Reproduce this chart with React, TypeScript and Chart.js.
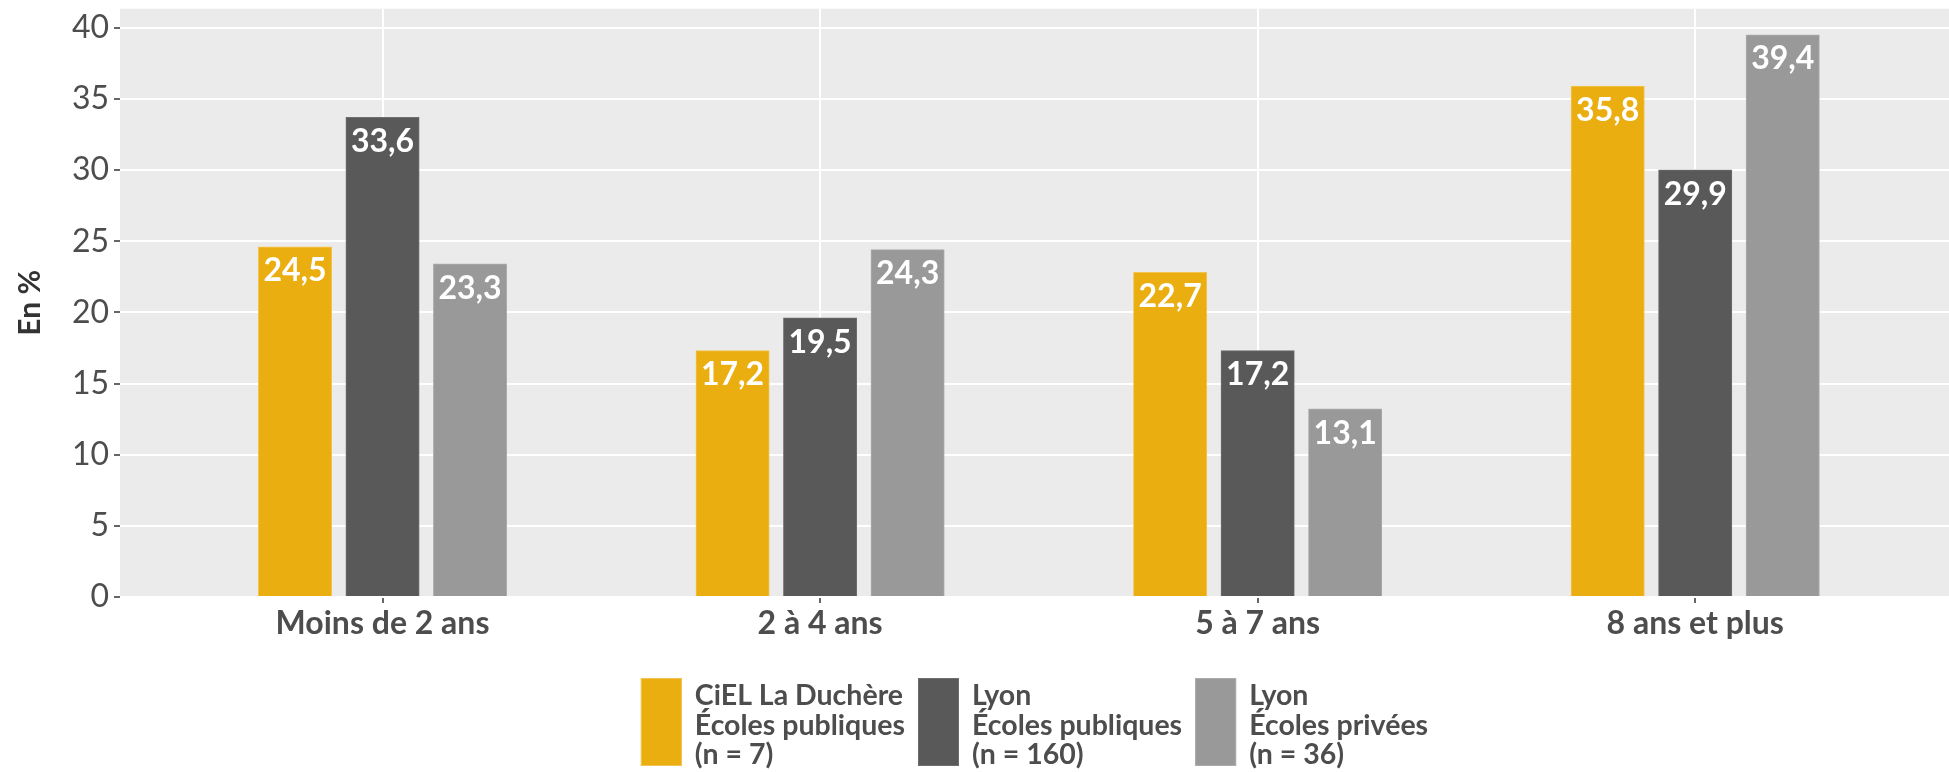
import React, { useEffect, useRef } from 'react';
import { Chart, registerables } from 'chart.js';

Chart.register(...registerables);

const categories = ['Moins de 2 ans', '2 à 4 ans', '5 à 7 ans', '8 ans et plus'];
const cielValues = [24.5, 17.2, 22.7, 35.8];
const lyonPublicValues = [33.6, 19.5, 17.2, 29.9];
const lyonPrivateValues = [23.3, 24.3, 13.1, 39.4];
const seriesLabels = [
  ['CiEL La Duchère', 'Écoles publiques', '(n = 7)'],
  ['Lyon', 'Écoles publiques', '(n = 160)'],
  ['Lyon', 'Écoles privées', '(n = 36)'],
];
const seriesColors = ['#EBAE11', '#595959', '#999999'];
const seriesBorders = ['#F2C452', '#6E6E6E', '#ACACAC'];
const yTickValues = [0, 5, 10, 15, 20, 25, 30, 35, 40];
const yAxisTitle = 'En %';

const FONT = 'Lato, "Open Sans", sans-serif';
const W = 1949;
const H = 772;

const fmt = (v: number) => v.toFixed(1).replace('.', ',');

const panelPlugin = {
  id: 'panelBg',
  beforeDraw(chart: any) {
    const { ctx, chartArea: a } = chart;
    ctx.save();
    ctx.fillStyle = '#EBEBEB';
    ctx.fillRect(a.left, a.top, a.right - a.left, a.bottom - a.top);
    ctx.restore();
  },
};

const valueLabelPlugin = {
  id: 'valueLabels',
  afterDatasetsDraw(chart: any) {
    const { ctx } = chart;
    ctx.save();
    ctx.font = `bold 32px ${FONT}`;
    ctx.fillStyle = '#FFFFFF';
    ctx.textAlign = 'center';
    ctx.textBaseline = 'alphabetic';
    chart.data.datasets.forEach((ds: any, di: number) => {
      const meta = chart.getDatasetMeta(di);
      meta.data.forEach((bar: any, i: number) => {
        const v = ds.data[i].y;
        ctx.fillText(fmt(v), bar.x, bar.y + 33);
      });
    });
    ctx.restore();
  },
};

const legendPlugin = {
  id: 'customLegend',
  afterDraw(chart: any) {
    const { ctx, chartArea: a } = chart;
    ctx.save();
    ctx.font = `bold 28.5px ${FONT}`;
    const boxW = 41;
    const boxH = 88;
    const boxText = 13;
    const itemGap = 13;
    const widths = seriesLabels.map((lines) => Math.max(...lines.map((l) => ctx.measureText(l).width)));
    const total = widths.reduce((s, w) => s + boxW + boxText + w, 0) + itemGap * (widths.length - 1);
    let x = (a.left + a.right) / 2 - total / 2;
    const boxTop = a.bottom + 81;
    chart.data.datasets.forEach((ds: any, i: number) => {
      ctx.fillStyle = ds.backgroundColor;
      ctx.fillRect(x, boxTop, boxW, boxH);
      ctx.strokeStyle = seriesBorders[i];
      ctx.lineWidth = 1;
      ctx.strokeRect(x + 0.5, boxTop + 0.5, boxW - 1, boxH - 1);
      ctx.fillStyle = '#4D4D4D';
      ctx.textAlign = 'left';
      ctx.textBaseline = 'alphabetic';
      seriesLabels[i].forEach((line, li) => {
        ctx.fillText(line, x + boxW + boxText, boxTop + 27 + li * 29.5);
      });
      x += boxW + boxText + widths[i] + itemGap;
    });
    ctx.restore();
  },
};

export default function App() {
  const canvasRef = useRef<HTMLCanvasElement | null>(null);

  useEffect(() => {
    if (!canvasRef.current) return;
    const allSeries = [cielValues, lyonPublicValues, lyonPrivateValues];
    const chart = new Chart(canvasRef.current, {
      type: 'bar',
      data: {
        datasets: allSeries.map((vals, si) => ({
          label: seriesLabels[si].join(' '),
          data: vals.map((v, i) => ({ x: i, y: v })),
          backgroundColor: seriesColors[si],
          borderColor: seriesBorders[si],
          borderWidth: 1,
          inflateAmount: 2,
          barPercentage: 0.8,
          categoryPercentage: 0.6,
        })),
      },
      options: {
        animation: false,
        responsive: false,
        maintainAspectRatio: false,
        layout: { padding: { top: 8.7, left: 0, right: 0, bottom: 0 } },
        plugins: {
          legend: { display: false },
          tooltip: { enabled: false },
        },
        scales: {
          x: {
            type: 'linear',
            min: -0.6,
            max: 3.58,
            offset: false,
            grid: {
              offset: false,
              color: '#FFFFFF',
              lineWidth: 2,
              tickColor: '#333333',
              tickLength: 6,
              tickWidth: 1.5,
            },
            border: { display: false },
            ticks: {
              autoSkip: false,
              maxRotation: 0,
              padding: 1,
              color: '#4D4D4D',
              font: { family: FONT, size: 32, weight: 'bold' },
              callback: (value: any) => categories[value] ?? '',
            },
            afterBuildTicks: (scale: any) => {
              scale.ticks = categories.map((_, i) => ({ value: i }));
            },
            afterFit: (scale: any) => {
              scale.height = H - 597;
              scale.paddingLeft = 0;
              scale.paddingRight = 0;
            },
          } as any,
          y: {
            min: 0,
            max: 41.35,
            grid: {
              color: '#FFFFFF',
              lineWidth: 2,
              tickLength: 6,
              tickWidth: 1.5,
              tickColor: (ctx: any) => (ctx.tick && yTickValues.includes(ctx.tick.value) ? '#333333' : 'rgba(0,0,0,0)'),
            },
            border: { display: false },
            ticks: {
              padding: 5,
              color: '#4D4D4D',
              font: { family: FONT, size: 32 },
              callback: (value: any) => (yTickValues.includes(value) ? String(value) : ''),
            },
            afterBuildTicks: (scale: any) => {
              const vals: number[] = [];
              yTickValues.forEach((v, i) => {
                vals.push(v);
                if (i < yTickValues.length - 1) vals.push((v + yTickValues[i + 1]) / 2);
              });
              scale.ticks = vals.map((v) => ({ value: v }));
            },
            afterFit: (scale: any) => {
              scale.width = 120;
              scale.paddingTop = 0;
              scale.paddingBottom = 0;
            },
            title: {
              display: true,
              text: yAxisTitle,
              color: '#333333',
              font: { family: FONT, size: 30, weight: 'bold' },
              padding: { top: 12, bottom: 0 },
            },
          },
        },
      },
      plugins: [panelPlugin, valueLabelPlugin, legendPlugin],
    } as any);
    return () => chart.destroy();
  }, []);

  return (
    <div style={{ position: 'fixed', left: 0, top: 0, width: W, height: H, background: '#FFFFFF' }}>
      <canvas ref={canvasRef} width={W} height={H} style={{ display: 'block', width: W, height: H }} />
    </div>
  );
}
